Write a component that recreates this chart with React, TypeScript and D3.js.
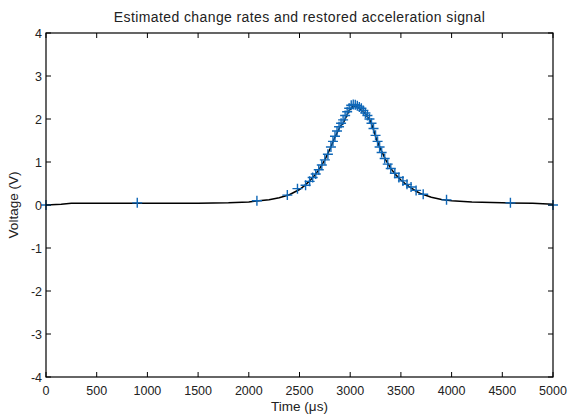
import React, { useEffect, useRef } from 'react';
import * as d3 from 'd3';

// restored acceleration signal (black line)
const signalTime = [0, 150, 250, 500, 1000, 1500, 1800, 2000, 2100, 2200, 2300, 2400, 2500, 2550, 2600, 2650, 2700, 2750, 2800, 2850, 2880, 2900, 2930, 2960, 2990, 3020, 3050, 3080, 3110, 3140, 3170, 3200, 3230, 3260, 3300, 3350, 3400, 3450, 3500, 3550, 3600, 3650, 3700, 3800, 3900, 4000, 4200, 4500, 4800, 5000];
const signalVolt = [0.0, 0.02, 0.04, 0.04, 0.04, 0.04, 0.05, 0.07, 0.1, 0.12, 0.17, 0.24, 0.36, 0.45, 0.56, 0.69, 0.85, 1.05, 1.3, 1.58, 1.72, 1.82, 1.9, 2.05, 2.2, 2.28, 2.3, 2.27, 2.22, 2.15, 2.05, 1.95, 1.75, 1.52, 1.3, 1.05, 0.85, 0.7, 0.58, 0.48, 0.4, 0.32, 0.26, 0.18, 0.13, 0.1, 0.07, 0.05, 0.04, 0.02];

// estimated change rates (blue + markers)
const rateTime = [0, 900, 2080, 2380, 2480, 2560, 2600, 2630, 2660, 2690, 2720, 2750, 2780, 2810, 2830, 2850, 2870, 2890, 2910, 2930, 2950, 2970, 2990, 3010, 3030, 3050, 3070, 3090, 3110, 3130, 3150, 3170, 3190, 3210, 3230, 3250, 3270, 3290, 3310, 3340, 3370, 3400, 3440, 3480, 3520, 3560, 3600, 3650, 3720, 3950, 4580, 5000];
const rateVolt = [0.0, 0.05, 0.1, 0.23, 0.38, 0.46, 0.55, 0.64, 0.72, 0.82, 0.93, 1.05, 1.18, 1.35, 1.48, 1.6, 1.72, 1.82, 1.9, 1.98, 2.08, 2.17, 2.25, 2.32, 2.34, 2.33, 2.31, 2.28, 2.25, 2.2, 2.14, 2.08, 2.0, 1.9, 1.78, 1.62, 1.48, 1.35, 1.22, 1.08, 0.95, 0.85, 0.74, 0.64, 0.56, 0.48, 0.42, 0.34, 0.25, 0.12, 0.05, 0.0];

const xTicks = [0, 500, 1000, 1500, 2000, 2500, 3000, 3500, 4000, 4500, 5000];
const yTicks = [-4, -3, -2, -1, 0, 1, 2, 3, 4];

const App = () => {
  const ref = useRef<SVGSVGElement | null>(null);

  useEffect(() => {
    const svg = d3.select(ref.current);
    svg.selectAll('*').remove();

    const left = 46, right = 553, top = 33, bottom = 377;
    const font = 'Liberation Sans, Arial, Helvetica, sans-serif';

    const x = d3.scaleLinear().domain([0, 5000]).range([left, right]);
    const y = d3.scaleLinear().domain([-4, 4]).range([bottom, top]);

    svg.append('rect')
      .attr('width', 568).attr('height', 415).attr('fill', '#fff');

    // signal line
    const line = d3.line<number>()
      .x((_, i) => x(signalTime[i]))
      .y(d => y(d));
    svg.append('path')
      .datum(signalVolt)
      .attr('d', line)
      .attr('fill', 'none')
      .attr('stroke', '#000')
      .attr('stroke-width', 1.5);

    // markers
    const m = 5;
    const g = svg.append('g')
      .attr('stroke', '#1068b8')
      .attr('stroke-width', 1.4);
    rateVolt.forEach((v, i) => {
      const cx = x(rateTime[i]);
      const cy = y(v);
      g.append('path').attr('d', `M${cx - m},${cy}H${cx + m}M${cx},${cy - m}V${cy + m}`);
    });

    // frame
    svg.append('rect')
      .attr('x', left).attr('y', top)
      .attr('width', right - left).attr('height', bottom - top)
      .attr('fill', 'none').attr('stroke', '#000').attr('stroke-width', 1.2);

    const tl = 5;
    const ticks = svg.append('g').attr('stroke', '#000').attr('stroke-width', 1);
    xTicks.forEach(t => {
      ticks.append('line').attr('x1', x(t)).attr('x2', x(t)).attr('y1', bottom).attr('y2', bottom - tl);
      ticks.append('line').attr('x1', x(t)).attr('x2', x(t)).attr('y1', top).attr('y2', top + tl);
    });
    yTicks.forEach(t => {
      ticks.append('line').attr('x1', left).attr('x2', left + tl).attr('y1', y(t)).attr('y2', y(t));
      ticks.append('line').attr('x1', right).attr('x2', right - tl).attr('y1', y(t)).attr('y2', y(t));
    });

    // tick labels
    svg.append('g').selectAll('text')
      .data(xTicks).enter().append('text')
      .attr('x', d => x(d)).attr('y', bottom + 18)
      .attr('text-anchor', 'middle')
      .style('font-family', font).style('font-size', '12.5px').style('fill', '#222')
      .text(d => d);
    svg.append('g').selectAll('text')
      .data(yTicks).enter().append('text')
      .attr('x', left - 4).attr('y', d => y(d) + 4.5)
      .attr('text-anchor', 'end')
      .style('font-family', font).style('font-size', '12.5px').style('fill', '#222')
      .text(d => d);

    // title and axis labels
    svg.append('text')
      .attr('x', (left + right) / 2).attr('y', 22)
      .attr('text-anchor', 'middle')
      .style('font-family', font).style('font-size', '14px')
      .style('letter-spacing', '0.4px').style('fill', '#222')
      .text('Estimated change rates and restored acceleration signal');
    svg.append('text')
      .attr('x', (left + right) / 2).attr('y', 411)
      .attr('text-anchor', 'middle')
      .style('font-family', font).style('font-size', '13.5px').style('fill', '#222')
      .text('Time (μs)');
    svg.append('text')
      .attr('transform', `translate(18,${(top + bottom) / 2}) rotate(-90)`)
      .attr('text-anchor', 'middle')
      .style('font-family', font).style('font-size', '13.5px').style('fill', '#222')
      .text('Voltage (V)');
  }, []);

  return (
    <svg ref={ref} width={568} height={415}
      style={{ position: 'absolute', left: 0, top: 0, display: 'block' }} />
  );
};

export default App;
